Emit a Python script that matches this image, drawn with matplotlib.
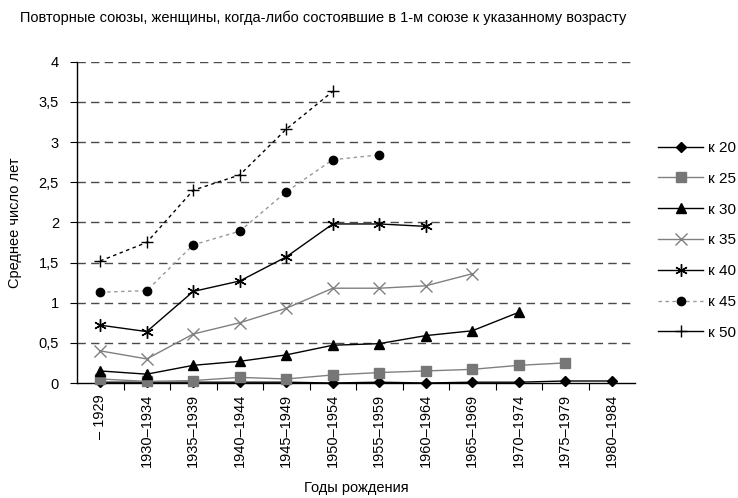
import matplotlib
matplotlib.use("Agg")
import matplotlib.pyplot as plt
from matplotlib.lines import Line2D
import numpy as np

plt.rcParams['font.family'] = ['Liberation Sans Narrow', 'Liberation Sans', 'DejaVu Sans']

categories = ["– 1929", "1930–1934", "1935–1939", "1940–1944", "1945–1949", "1950–1954",
              "1955–1959", "1960–1964", "1965–1969", "1970–1974", "1975–1979", "1980–1984"]
k20 = [0.01, 0.01, 0.01, 0.01, 0.01, 0.0, 0.01, 0.0, 0.01, 0.01, 0.025, 0.025]
k25 = [0.05, 0.02, 0.03, 0.07, 0.05, 0.10, 0.13, 0.15, 0.17, 0.22, 0.25]
k30 = [0.15, 0.11, 0.22, 0.27, 0.35, 0.47, 0.49, 0.59, 0.65, 0.88]
k35 = [0.40, 0.30, 0.61, 0.75, 0.93, 1.18, 1.18, 1.21, 1.36]
k40 = [0.72, 0.64, 1.14, 1.27, 1.57, 1.98, 1.98, 1.95]
k45 = [1.13, 1.15, 1.72, 1.89, 2.38, 2.78, 2.84]
k50 = [1.52, 1.75, 2.40, 2.59, 3.16, 3.63]
series_labels = ["к 20", "к 25", "к 30", "к 35", "к 40", "к 45", "к 50"]
yticks = [0, 0.5, 1, 1.5, 2, 2.5, 3, 3.5, 4]
ytick_labels = ["0", "0,5", "1", "1,5", "2", "2,5", "3", "3,5", "4"]

fig = plt.figure(figsize=(7.38, 4.98), dpi=100)
ax = fig.add_axes([77/738, 1-383/498, (635-77)/738, (383-61.7)/498])

gray = '#808080'
styles = [
    dict(color='black', ls='-', marker='D', ms=5, mfc='black', mec='black'),
    dict(color=gray, ls='-', marker='s', ms=6.5, mfc='#777777', mec='#777777'),
    dict(color='black', ls='-', marker='^', ms=7, mfc='black', mec='black'),
    dict(color=gray, ls='-', marker='x', ms=8, mfc=gray, mec=gray, mew=1.0),
    dict(color='black', ls='-', marker=(6, 2, 0), ms=9, mfc='black', mec='black', mew=1.0),
    dict(color='#999999', ls=(0, (2.5, 2.5)), marker='o', ms=6, mfc='black', mec='black'),
    dict(color='black', ls=(0, (2.5, 2.5)), marker='+', ms=9, mfc='black', mec='black', mew=1.0),
]
all_series = [k20, k25, k30, k35, k40, k45, k50]
x_all = np.arange(len(categories))
for vals, st, lab in zip(all_series, styles, series_labels):
    ax.plot(x_all[:len(vals)], vals, lw=1.0, label=lab, zorder=3, clip_on=False, **st)

# grid
for y in yticks[1:]:
    ax.axhline(y, color='#4a4a4a', lw=1.0, ls=(0, (6, 3.8)), zorder=1)

ax.set_xlim(-0.5, 11.5)
ax.set_ylim(0, 4)
ax.spines['top'].set_visible(False)
ax.spines['right'].set_visible(False)
ax.spines['left'].set_linewidth(1.0)
ax.spines['bottom'].set_linewidth(1.0)

ax.set_yticks(yticks)
ax.set_yticklabels(ytick_labels, fontsize=10.5)
ax.tick_params(axis='y', direction='out', length=5, width=0.8, pad=8)

ax.set_xticks(x_all)
ax.set_xticklabels(categories, rotation=90, fontsize=10.5)
ax.tick_params(axis='x', which='major', length=0, pad=8)
ax.set_xticks(np.arange(0.5, 11, 1), minor=True)
ax.tick_params(axis='x', which='minor', direction='out', length=5, width=0.8)

ax.set_ylabel("Среднее число лет", fontsize=10.5, labelpad=12)
ax.set_xlabel("Годы рождения", fontsize=10.5, labelpad=10)

fig.text(20/738, 1-18/498, "Повторные союзы, женщины, когда-либо состоявшие в 1-м союзе к указанному возрасту",
         fontsize=10.5, va='center', ha='left')

# legend handles (k50 shown solid in the reference legend)
handles = []
for st, lab in zip(styles, series_labels):
    st2 = dict(st)
    if lab == "к 50":
        st2['ls'] = '-'
    handles.append(Line2D([0], [0], lw=1.0, **st2))
fig.legend(handles, series_labels, loc='upper left', bbox_to_anchor=(658/738, 1-141/498),
           frameon=False, fontsize=11, handlelength=2.95, handletextpad=0.3,
           labelspacing=1.1, borderpad=0, borderaxespad=0)

fig.savefig("out.png", dpi=100)
